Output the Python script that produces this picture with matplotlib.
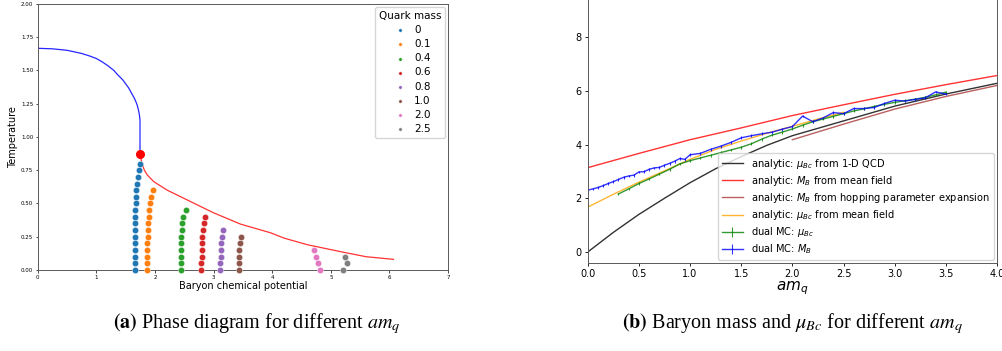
import numpy as np
import matplotlib
matplotlib.use("Agg")
import matplotlib.pyplot as plt

plt.rcParams.update({
    "font.family": "DejaVu Sans",
    "mathtext.fontset": "dejavusans",
    "axes.edgecolor": "0.35",
    "axes.linewidth": 0.7,
})

# ── (a) phase diagram ────────────────────────────────────────────────────────
crit_mu = [0.0, 0.25, 0.5, 0.75, 0.9, 1.0, 1.1, 1.2, 1.3, 1.36, 1.45, 1.5, 1.55, 1.6,
           1.65, 1.68, 1.70, 1.72, 1.735, 1.745, 1.745]
crit_T = [1.667, 1.663, 1.652, 1.628, 1.607, 1.59, 1.565, 1.535, 1.50, 1.47, 1.43,
          1.40, 1.37, 1.33, 1.29, 1.26, 1.235, 1.20, 1.165, 1.128, 0.87]

first_mu = [1.745, 1.78, 1.82, 1.87, 1.98, 2.21, 2.72, 3.0, 3.46, 3.97, 4.20, 4.6,
            5.22, 5.6, 6.07]
first_T = [0.87, 0.80, 0.75, 0.714, 0.664, 0.60, 0.49, 0.43, 0.345, 0.28, 0.24, 0.19,
           0.133, 0.10, 0.08]

endpoint = (1.745, 0.87)

mass_labels = ["0", "0.1", "0.4", "0.6", "0.8", "1.0", "2.0", "2.5"]
dots_mu = [
    [1.655, 1.655, 1.656, 1.657, 1.658, 1.66, 1.661, 1.662, 1.664, 1.667, 1.672,
     1.677, 1.685, 1.693, 1.705, 1.72, 1.74],
    [1.868, 1.868, 1.869, 1.870, 1.872, 1.874, 1.878, 1.883, 1.890, 1.900, 1.918,
     1.940, 1.966],
    [2.442, 2.442, 2.443, 2.444, 2.446, 2.449, 2.455, 2.468, 2.487, 2.527],
    [2.794, 2.794, 2.795, 2.796, 2.799, 2.805, 2.816, 2.839, 2.862],
    [3.118, 3.118, 3.120, 3.124, 3.135, 3.146, 3.163],
    [3.436, 3.438, 3.440, 3.442, 3.452, 3.468],
    [4.81, 4.78, 4.75, 4.72],
    [5.207, 5.28, 5.24],
]
dots_T = [[0.05 * i for i in range(len(m))] for m in dots_mu]

# ── (b) baryon mass and mu_Bc ────────────────────────────────────────────────
qcd_x = [0.0, 0.25, 0.5, 0.75, 1.0, 1.25, 1.5, 1.75, 2.0, 2.5, 3.0, 3.5, 4.0]
qcd_mu = [0.0, 0.73, 1.40, 2.0, 2.58, 3.1, 3.55, 3.97, 4.33, 4.88, 5.43, 5.88, 6.28]

mf_x = [0.0, 0.5, 1.0, 1.5, 2.0, 2.5, 3.0, 3.5, 4.0]
mf_mb = [3.14, 3.67, 4.18, 4.62, 5.08, 5.48, 5.87, 6.23, 6.57]

hop_x = [2.0, 2.5, 3.0, 3.5, 4.0]
hop_mb = [4.18, 4.76, 5.32, 5.79, 6.20]

mfc_x = [0.0, 0.25, 0.5, 0.75, 1.0, 1.25, 1.5, 1.75, 2.0, 2.25, 2.5]
mfc_mu = [1.67, 2.15, 2.60, 3.02, 3.45, 3.82, 4.13, 4.42, 4.68, 4.95, 5.20]

mc_mu_x = [0.3, 0.4, 0.5, 0.6, 0.7, 0.8, 0.9, 1.0, 1.1, 1.2, 1.3, 1.4, 1.5, 1.6, 1.7,
           1.8, 1.9, 2.0, 2.1, 2.2, 2.3, 2.4, 2.5, 2.6, 2.7, 2.8, 2.9, 3.0, 3.1, 3.2,
           3.3, 3.4, 3.5]
mc_mu = [2.16, 2.35, 2.55, 2.72, 2.90, 3.08, 3.28, 3.40, 3.50, 3.60, 3.70, 3.80, 3.90,
         4.03, 4.20, 4.35, 4.46, 4.58, 4.72, 4.85, 4.95, 5.05, 5.15, 5.25, 5.33, 5.42,
         5.50, 5.57, 5.63, 5.69, 5.76, 5.85, 5.95]

mc_mb_x = [0.0, 0.05, 0.1, 0.15, 0.2, 0.25, 0.3, 0.35, 0.4, 0.45, 0.5, 0.55, 0.6, 0.65,
           0.7, 0.75, 0.8, 0.85, 0.9, 0.95, 1.0, 1.1, 1.2, 1.3, 1.4, 1.5, 1.6, 1.7, 1.8,
           1.9, 2.0, 2.1, 2.2, 2.3, 2.4, 2.5, 2.6, 2.7, 2.8, 2.9, 3.0, 3.1, 3.2, 3.3,
           3.4, 3.5]
mc_mb = [2.30, 2.35, 2.40, 2.47, 2.55, 2.62, 2.70, 2.78, 2.83, 2.86, 2.98, 2.99, 3.08,
         3.13, 3.15, 3.23, 3.30, 3.38, 3.48, 3.45, 3.62, 3.67, 3.82, 3.94, 4.08, 4.25,
         4.33, 4.40, 4.46, 4.57, 4.67, 5.06, 4.85, 4.99, 5.19, 5.15, 5.34, 5.34, 5.38,
         5.53, 5.65, 5.62, 5.68, 5.74, 5.96, 5.88]
mc_err = 0.05

# ── figure ───────────────────────────────────────────────────────────────────
fig = plt.figure(figsize=(10.03, 3.51), dpi=100)

ax1 = fig.add_axes([0.0376, 0.2308, 0.4091, 0.7578])
ax1.plot(crit_mu, crit_T, color="blue", lw=0.9, alpha=0.85)
ax1.plot(first_mu, first_T, color="red", lw=0.9, alpha=0.8)
colors = plt.cm.tab10.colors
for i, lab in enumerate(mass_labels):
    ax1.scatter(dots_mu[i], dots_T[i], s=21, color=colors[i], edgecolor="white",
                linewidth=0.3, label=lab, zorder=3, clip_on=False)
ax1.plot(*endpoint, "o", color="red", ms=5.5, zorder=4)
ax1.set_xlim(0, 7)
ax1.set_ylim(0, 2)
ax1.set_yticks([0, 0.25, 0.5, 0.75, 1.0, 1.25, 1.5, 1.75, 2.0])
ax1.tick_params(labelsize=4, length=1.8, width=0.5, pad=1.5)
ax1.set_xlabel("Baryon chemical potential", fontsize=7, labelpad=1)
ax1.set_ylabel("Temperature", fontsize=7, labelpad=2)
ax1.legend(title="Quark mass", loc="upper right", fontsize=7.5,
           title_fontsize=7.5, markerscale=0.55, handletextpad=0.4,
           labelspacing=0.4, borderpad=0.35, borderaxespad=0.3)

ax2 = fig.add_axes([0.586, 0.2507, 0.408, 0.766])
ax2.plot(qcd_x, qcd_mu, color="black", lw=1.0, alpha=0.8,
         label=r"analytic: $\mu_{Bc}$ from 1-D QCD")
ax2.plot(mf_x, mf_mb, color="red", lw=1.0, alpha=0.8,
         label=r"analytic: $M_B$ from mean field")
ax2.plot(hop_x, hop_mb, color="brown", lw=1.0, alpha=0.75,
         label=r"analytic: $M_B$ from hopping parameter expansion")
ax2.plot(mfc_x, mfc_mu, color="orange", lw=1.0, alpha=0.8,
         label=r"analytic: $\mu_{Bc}$ from mean field")
ax2.errorbar(mc_mu_x, mc_mu, yerr=mc_err, color="green", lw=1.0, alpha=0.8,
             elinewidth=0.8, label=r"dual MC: $\mu_{Bc}$")
ax2.errorbar(mc_mb_x, mc_mb, yerr=mc_err, color="blue", lw=1.0, alpha=0.8,
             elinewidth=0.8, label=r"dual MC: $M_B$")
ax2.set_xlim(0, 4)
ax2.set_ylim(-0.41, 9.6)
ax2.set_yticks([0, 2, 4, 6, 8])
ax2.set_xticks(np.arange(0, 4.01, 0.5))
ax2.tick_params(labelsize=7, length=2.5, width=0.6, pad=2)
ax2.set_xlabel(r"$am_q$", fontsize=11, labelpad=0)
ax2.legend(loc="lower right", fontsize=7.1, handlelength=2.2, labelspacing=0.32,
           borderpad=0.4, borderaxespad=0.3)

fig.text(0.256, 0.065, r"$\mathbf{(a)}$ Phase diagram for different $am_q$",
         ha="center", va="baseline", fontsize=14.5, family="Liberation Serif",
         math_fontfamily="stix")
fig.text(0.79, 0.065, r"$\mathbf{(b)}$ Baryon mass and $\mu_{Bc}$ for different $am_q$",
         ha="center", va="baseline", fontsize=14.5, family="Liberation Serif",
         math_fontfamily="stix")

fig.savefig("out.png", dpi=100)
